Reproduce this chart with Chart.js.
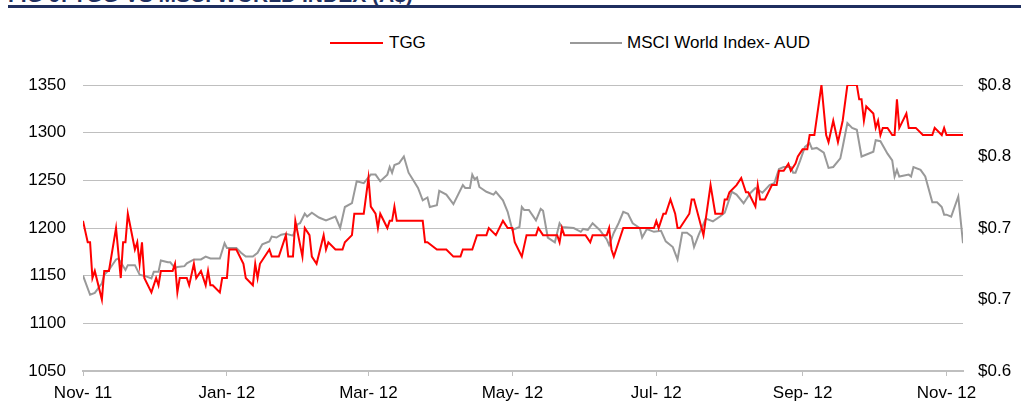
<!DOCTYPE html>
<html>
<head>
<meta charset="utf-8">
<script src="https://cdn.jsdelivr.net/npm/chart.js@4.4.1/dist/chart.umd.min.js"></script>
<style>
  body { margin: 0; background: #fff; font-family: "Liberation Sans", Arial, sans-serif; }
  #wrap { position: relative; width: 1021px; height: 412px; overflow: hidden; }
  #title { position: absolute; left: 8px; top: -17px; font-weight: bold; font-size: 21px; color: #1f2f5f; white-space: nowrap; }
  #rule { position: absolute; left: 8px; right: 0; top: 5px; height: 3px; background: #1f2f5f; }
  .lg-line { position: absolute; top: 42px; height: 2px; }
  .lg-text { position: absolute; top: 33px; font-size: 17px; color: #000; white-space: nowrap; }
  canvas { position: absolute; left: 0; top: 0; }
</style>
</head>
<body>
<div id="wrap">
  <div id="title">FIG 9: TGG VS MSCI WORLD INDEX (A$)</div>
  <div id="rule"></div>
  <div class="lg-line" style="left:330px;width:53px;background:#ff0000"></div>
  <div class="lg-text" style="left:389px">TGG</div>
  <div class="lg-line" style="left:570px;width:52px;background:#999999"></div>
  <div class="lg-text" style="left:627px">MSCI World Index- AUD</div>
  <canvas id="chart" width="1021" height="412"></canvas>
</div>
<script>
// days counted from 1 Nov 2011
const tickDays = [0, 61, 121, 182, 243, 305, 366];
const tickLabels = ["Nov- 11", "Jan- 12", "Mar- 12", "May- 12", "Jul- 12", "Sep- 12", "Nov- 12"];

// MSCI World Index (AUD), left axis
const msciDays = [
  0, 3, 5, 8, 9, 11, 14, 15, 16, 18,
  19, 22, 24, 27, 29, 30, 32, 33, 36, 37,
  39, 40, 43, 44, 47, 50, 52, 54, 58, 60,
  61, 65, 67, 69, 72, 74, 76, 79, 80, 82,
  84, 86, 89, 91, 92, 94, 95, 97, 100, 103,
  107, 109, 111, 114, 116, 119, 122, 124, 126, 129,
  130, 131, 132, 134, 136, 138, 140, 142, 144, 146,
  147, 150, 151, 154, 157, 161, 162, 164, 165, 166,
  167, 168, 171, 174, 175, 178, 180, 182, 185, 186,
  187, 189, 192, 194, 195, 197, 200, 202, 203, 208,
  211, 212, 214, 216, 219, 222, 223, 225, 227, 229,
  231, 233, 236, 237, 239, 242, 245, 247, 250, 252,
  254, 256, 258, 259, 261, 264, 267, 270, 272, 275,
  277, 280, 283, 285, 288, 291, 293, 295, 297, 300,
  301, 302, 304, 306, 308, 309, 311, 314, 316, 318,
  321, 322, 324, 326, 328, 330, 335, 336, 338, 341,
  343, 344, 345, 346, 350, 351, 352, 355, 357, 360,
  362, 364, 365, 366, 368, 371, 373
];
const msciValues = [
  1150, 1130, 1132, 1142, 1151, 1156, 1167, 1168, 1164, 1156,
  1161, 1161, 1151, 1149, 1147, 1154, 1154, 1166, 1164, 1164,
  1158, 1159, 1160, 1163, 1167, 1167, 1170, 1168, 1168, 1184,
  1179, 1179, 1174, 1170, 1170, 1174, 1183, 1186, 1191, 1190,
  1193, 1194, 1192, 1204, 1205, 1215, 1212, 1216, 1211, 1208,
  1212, 1200, 1222, 1226, 1249, 1247, 1256, 1256, 1249, 1256,
  1264, 1258, 1266, 1268, 1275, 1258, 1250, 1242, 1229, 1232,
  1222, 1224, 1239, 1235, 1225, 1245, 1242, 1242, 1256, 1251,
  1253, 1243, 1238, 1235, 1238, 1229, 1217, 1198, 1201, 1222,
  1219, 1219, 1208, 1220, 1218, 1190, 1185, 1205, 1201, 1200,
  1196, 1199, 1198, 1205, 1198, 1188, 1182, 1195, 1205, 1217,
  1215, 1205, 1200, 1190, 1199, 1196, 1197, 1186, 1180, 1167,
  1195, 1195, 1191, 1180, 1193, 1210, 1207, 1212, 1216, 1238,
  1235, 1226, 1237, 1242, 1237, 1245, 1247, 1262, 1264, 1264,
  1258, 1258, 1271, 1285, 1289, 1283, 1284, 1279, 1263, 1264,
  1273, 1285, 1310, 1305, 1303, 1275, 1280, 1292, 1291, 1278,
  1271, 1254, 1261, 1254, 1256, 1254, 1264, 1261, 1254, 1227,
  1227, 1222, 1214, 1214, 1212, 1233, 1184
];

// TGG share price (A$), right axis
const tggDays = [
  0, 2, 3, 4, 5, 8, 9, 11, 14, 16,
  17, 18, 19, 22, 23, 24, 25, 26, 29, 31,
  32, 33, 38, 39, 40, 41, 44, 45, 47, 48,
  50, 52, 53, 54, 55, 58, 59, 61, 62, 65,
  68, 69, 72, 73, 74, 75, 79, 80, 83, 86,
  87, 89, 90, 93, 94, 96, 97, 99, 102, 103,
  104, 107, 110, 111, 114, 115, 119, 121, 122, 124,
  125, 126, 129, 130, 131, 132, 133, 144, 145, 146,
  150, 154, 157, 160, 161, 165, 167, 171, 172, 175,
  178, 180, 182, 183, 186, 188, 192, 193, 195, 201,
  202, 203, 204, 213, 215, 216, 222, 223, 224, 225,
  227, 229, 242, 243, 244, 246, 247, 249, 251, 252,
  253, 257, 258, 259, 263, 266, 268, 271, 272, 273,
  274, 277, 279, 281, 282, 285, 286, 287, 289, 292,
  294, 295, 297, 299, 300, 302, 303, 305, 307, 308,
  310, 313, 315, 316, 318, 320, 322, 324, 328, 329,
  330, 331, 332, 335, 336, 337, 338, 339, 341, 343,
  344, 345, 346, 349, 350, 353, 356, 360, 361, 364,
  365, 366, 373
];
const tggValues = [
  0.705, 0.690, 0.690, 0.665, 0.670, 0.650, 0.670, 0.670, 0.700, 0.665,
  0.690, 0.690, 0.710, 0.685, 0.690, 0.675, 0.690, 0.665, 0.655, 0.665,
  0.660, 0.670, 0.670, 0.675, 0.655, 0.665, 0.665, 0.660, 0.675, 0.665,
  0.670, 0.660, 0.670, 0.660, 0.660, 0.655, 0.665, 0.665, 0.685, 0.685,
  0.675, 0.665, 0.660, 0.675, 0.665, 0.675, 0.685, 0.680, 0.680, 0.695,
  0.680, 0.680, 0.705, 0.680, 0.700, 0.695, 0.680, 0.675, 0.695, 0.685,
  0.690, 0.685, 0.685, 0.690, 0.695, 0.710, 0.710, 0.735, 0.715, 0.710,
  0.700, 0.710, 0.700, 0.705, 0.705, 0.715, 0.705, 0.705, 0.690, 0.690,
  0.685, 0.685, 0.680, 0.680, 0.685, 0.685, 0.695, 0.695, 0.700, 0.695,
  0.705, 0.700, 0.700, 0.690, 0.680, 0.695, 0.695, 0.700, 0.695, 0.695,
  0.690, 0.700, 0.695, 0.695, 0.690, 0.695, 0.695, 0.700, 0.685, 0.680,
  0.690, 0.700, 0.700, 0.705, 0.700, 0.710, 0.710, 0.720, 0.710, 0.700,
  0.700, 0.710, 0.720, 0.720, 0.695, 0.730, 0.710, 0.710, 0.720, 0.720,
  0.725, 0.730, 0.735, 0.725, 0.725, 0.715, 0.730, 0.720, 0.720, 0.730,
  0.730, 0.740, 0.740, 0.745, 0.740, 0.745, 0.750, 0.755, 0.755, 0.765,
  0.765, 0.800, 0.765, 0.760, 0.775, 0.760, 0.775, 0.800, 0.800, 0.790,
  0.790, 0.775, 0.785, 0.780, 0.770, 0.775, 0.765, 0.770, 0.770, 0.765,
  0.765, 0.790, 0.770, 0.780, 0.770, 0.770, 0.765, 0.765, 0.770, 0.765,
  0.770, 0.765, 0.765
];

const tickFont = { family: "'Liberation Sans', Arial, sans-serif", size: 17 };

new Chart(document.getElementById("chart"), {
  type: "line",
  data: {
    datasets: [
      {
        label: "TGG",
        data: tggDays.map((d, i) => ({ x: d, y: tggValues[i] })),
        borderColor: "#ff0000",
        borderWidth: 2,
        pointRadius: 0,
        tension: 0,
        yAxisID: "yRight"
      },
      {
        label: "MSCI World Index- AUD",
        data: msciDays.map((d, i) => ({ x: d, y: msciValues[i] })),
        borderColor: "#999999",
        borderWidth: 2,
        pointRadius: 0,
        tension: 0,
        yAxisID: "yLeft"
      }
    ]
  },
  options: {
    responsive: false,
    animation: false,
    layout: { padding: { top: 85, left: 0, right: 0, bottom: 0 } },
    plugins: { legend: { display: false }, tooltip: { enabled: false } },
    scales: {
      x: {
        type: "linear",
        min: 0,
        max: 373,
        afterBuildTicks: (axis) => { axis.ticks = tickDays.map(v => ({ value: v })); },
        afterFit: (axis) => { axis.height = 41; },
        ticks: {
          callback: (v, i) => tickLabels[i],
          font: tickFont,
          color: "#000",
          padding: 7,
          maxRotation: 0,
          autoSkip: false
        },
        grid: { drawOnChartArea: false, drawTicks: true, tickLength: 5, color: "#bfbfbf" },
        border: { display: true, color: "#bfbfbf", width: 2 }
      },
      yLeft: {
        position: "left",
        min: 1050,
        max: 1350,
        afterFit: (axis) => { axis.width = 83; },
        ticks: { stepSize: 50, font: tickFont, color: "#000", padding: 17, callback: (v) => String(v) },
        grid: { color: "#bfbfbf", lineWidth: 1, drawTicks: false },
        border: { display: false }
      },
      yRight: {
        position: "right",
        min: 0.6,
        max: 0.8,
        afterFit: (axis) => { axis.width = 58; },
        ticks: {
          stepSize: 0.05,
          font: tickFont,
          color: "#000",
          padding: 15,
          callback: (v) => "$" + v.toFixed(1)
        },
        grid: { display: false, drawTicks: false },
        border: { display: false }
      }
    }
  }
});
</script>
</body>
</html>
